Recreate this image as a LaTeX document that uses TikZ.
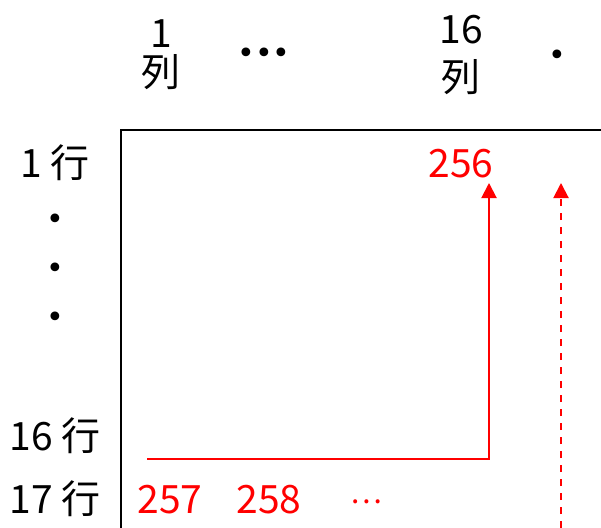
\documentclass[tikz,border=0pt]{standalone}
\usepackage{fontspec}
\setmainfont{Noto Sans CJK JP}
\newfontfamily\dotfont{DejaVu Sans}
\usetikzlibrary{arrows.meta}

\begin{document}
\begin{tikzpicture}[x=1pt,y=-1pt,
  lbl/.style={font=\fontsize{39}{42}\selectfont, inner sep=0pt},
  num/.style={lbl, text=red, anchor=base},
  dot/.style={font=\dotfont\fontsize{30}{30}\selectfont, inner sep=0pt},
  flow/.style={red, line width=2pt, -{Triangle[length=15pt,width=15pt]}}]
\useasboundingbox (0,0) rectangle (601,527);
\draw[line width=2pt] (121,528) -- (121,130) -- (602,130);
\node[lbl, anchor=base] (colone) at (161,48) {1};
\node[lbl] (colonechar) at (161,72) {列};
\node[dot] (coldots) at (264,56) {•••};
\node[lbl, anchor=base] (colsixteen) at (461,44) {16};
\node[lbl] (colsixteenchar) at (461,77) {列};
\node[dot] (colmore) at (557,58) {•};
\node[lbl, anchor=base] (rowone) at (55,177) {1 行};
\node[dot] (rowdota) at (55,222) {•};
\node[dot] (rowdotb) at (55,271) {•};
\node[dot] (rowdotc) at (55,320) {•};
\node[lbl, anchor=base] (rowsixteen) at (55,450) {16 行};
\node[lbl, anchor=base] (rowseventeen) at (55,513) {17 行};
\node[num] (last) at (461,177) {256};
\node[num] (nexta) at (170,513) {257};
\node[num] (nextb) at (269,513) {258};
\node[lbl, text=red, font=\fontsize{30}{30}\selectfont] (nextdots) at (366,502) {⋯};
\coordinate (start) at (147,459);
\coordinate (turn) at (489,459);
\coordinate (tip) at (489,183);
\coordinate (dashfoot) at (561,528);
\coordinate (dashtip) at (561,183);
\draw[flow] (start) -- (turn) -- (tip);
\draw[flow, dash pattern=on 7pt off 7pt] (dashfoot) -- (dashtip);
\end{tikzpicture}
\end{document}
